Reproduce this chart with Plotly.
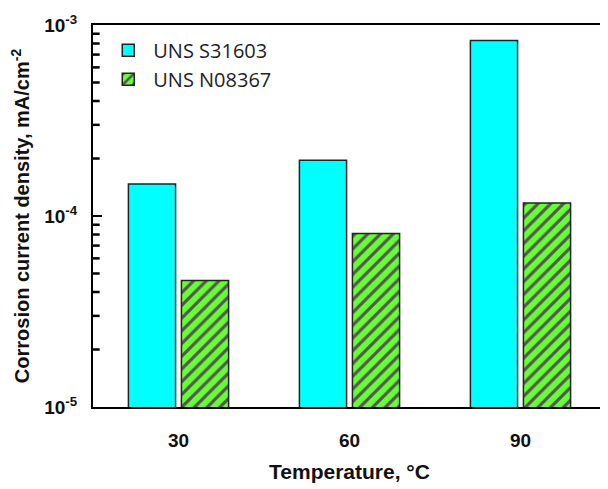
import plotly.graph_objects as go

categories = ["30", "60", "90"]
uns_s31603 = [1.47e-4, 1.96e-4, 8.3e-4]
uns_n08367 = [4.6e-5, 8.1e-5, 1.17e-4]
ytick_vals = [1e-5, 1e-4, 1e-3]
ytick_text = ["10<sup>-5</sup>", "10<sup>-4</sup>", "10<sup>-3</sup>"]
minor_vals = [m * 10 ** e for e in (-5, -4) for m in range(2, 10)]

fig = go.Figure()
fig.add_trace(go.Bar(
    x=categories, y=uns_s31603, name="UNS S31603",
    marker=dict(color="#00FFFF", line=dict(color="#222222", width=1.5)),
))
fig.add_trace(go.Bar(
    x=categories, y=uns_n08367, name="UNS N08367",
    marker=dict(color="#66FF33", line=dict(color="#222222", width=1.5),
                pattern=dict(shape="/", fgcolor="#555555", bgcolor="#66FF33",
                             size=9, solidity=0.35, fillmode="replace")),
))

# minor log ticks drawn inside the left axis
for v in minor_vals:
    fig.add_shape(type="line", xref="x domain", yref="y", x0=0, x1=0.013, y0=v, y1=v,
                  line=dict(color="black", width=2.5))

axis_font = dict(family="Liberation Sans, Arial, sans-serif", size=19, color="#111111")
fig.update_layout(
    width=608, height=489,
    margin=dict(l=85, r=10, t=17, b=90),
    paper_bgcolor="white", plot_bgcolor="white",
    barmode="group", bargap=0.38, bargroupgap=0.11,
    font=dict(family="Liberation Sans, Arial, sans-serif", color="#111111"),
    showlegend=True,
    legend=dict(x=0.02, y=0.985, xanchor="left", yanchor="top",
                bgcolor="rgba(0,0,0,0)",
                font=dict(family="Open Sans, sans-serif", size=20, color="#222222"),
                itemwidth=40, tracegroupgap=0),
    xaxis=dict(
        showline=True, linecolor="black", linewidth=2, mirror=True,
        ticks="", tickfont=axis_font, automargin=False, ticklabelstandoff=15,
        title=dict(text="<b>Temperature, °C</b>", font=dict(size=21), standoff=15),
        tickprefix="<b>", ticksuffix="</b>",
    ),
    yaxis=dict(
        type="log", range=[-5, -3], automargin=False,
        showline=True, linecolor="black", linewidth=2, mirror=True,
        ticks="inside", ticklen=9, tickwidth=2, tickcolor="black",
        tickvals=ytick_vals, ticktext=["<b>" + t + "</b>" for t in ytick_text],
        tickfont=axis_font, showgrid=False, ticklabelstandoff=10,
        title=dict(text="<b>Corrosion current density, mA/cm<sup>-2</sup></b>", font=dict(size=20), standoff=12),
    ),
)
fig.write_html("out.html")
